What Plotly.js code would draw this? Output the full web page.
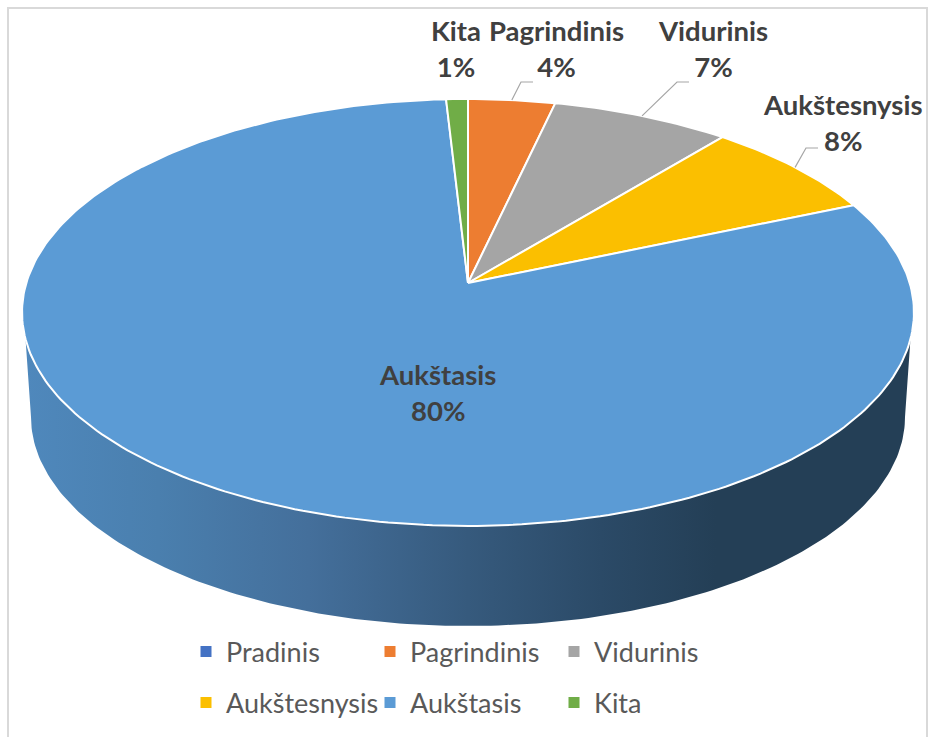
<!DOCTYPE html>
<html><head><meta charset="utf-8">
<script src="https://cdn.plot.ly/plotly-3.0.1.min.js"></script>
<style>html,body{margin:0;padding:0;background:#fff}#c{width:928px;height:737px}</style>
</head><body><div id="c"></div>
<script>
// Data (share of respondents, %)
const categories = ["Pradinis","Pagrindinis","Vidurinis","Aukštesnysis","Aukštasis","Kita"];
const shares = [0, 3.6, 7.4, 7.6, 80.49, 0.9];
const colors = ["#4472c4","#ed7d31","#a5a5a5","#fbbf00","#5b9bd5","#70ad47"];
const legendRows = ["legend","legend","legend","legend2","legend2","legend2"];
// label placement (px centre of the text), null = no label
const labelX = [null, 556, 713, 842, 437, 456];
const labelY = [null, 48, 48, 122, 392, 48];
// leader elbows (px), null = no leader
const elbowX = [null, 521, 677, 806, null, null];
const elbowY = [null, 82, 82, 148, null, null];
const elbowLen = 12;

// perspective projection of the tilted disc
const cx = 468, cy = 283, a = 441.7, b = 209.4, k = 0.138;
function P(deg){
  const t = deg*Math.PI/180, u = Math.sin(t), v = Math.cos(t), d = 1+k*v;
  return [cx+a*u/d, cy-b*v/d];
}
function range(from,to,step){ const r=[]; const s=(to>from?1:-1)*Math.abs(step); for(let t=from;(s>0?t<to:t>to);t+=s) r.push(t); r.push(to); return r; }

const traces = [];
// side wall
const wallTop = range(105,255,1).map(P);
const rimCx = 468, rimCy = 417, rimA = 437, rimB = 209;
const wallBottom = range(180,0,1).map(t=>[rimCx+rimA*Math.cos(t*Math.PI/180), rimCy+rimB*Math.sin(t*Math.PI/180)]);
const wall = wallTop.concat(wallBottom);
traces.push({type:"scatter",mode:"lines",x:wall.map(p=>p[0]),y:wall.map(p=>p[1]),
  fill:"toself",line:{width:0,color:"rgba(0,0,0,0)"},showlegend:false,hoverinfo:"skip",
  fillgradient:{type:"horizontal",colorscale:[[0,"#4f88bc"],[0.15,"#4a7fae"],[0.32,"#446f9b"],[0.5,"#365a7d"],[0.65,"#2b4a67"],[0.78,"#243f56"],[1,"#243f56"]]}});

// top face slices
const total = shares.reduce((s,v)=>s+v,0);
let cum = 0;
const annotations = [];
categories.forEach((name,i)=>{
  const start = cum/total*360, end = (cum+shares[i])/total*360, mid=(start+end)/2;
  cum += shares[i];
  if(shares[i]>0){
    const arc = range(start,end,1).map(P);
    const pts = [[cx,cy]].concat(arc,[[cx,cy]]);
    traces.push({type:"scatter",mode:"lines",x:pts.map(p=>p[0]),y:pts.map(p=>p[1]),fill:"toself",
      fillcolor:colors[i],line:{color:"#ffffff",width:2},showlegend:false,hoverinfo:"skip"});
  }
  if(elbowX[i]!==null){
    const m = P(mid);
    traces.push({type:"scatter",mode:"lines",x:[m[0],elbowX[i],elbowX[i]+elbowLen],y:[m[1],elbowY[i],elbowY[i]],
      line:{color:"#a6a6a6",width:1.2},showlegend:false,hoverinfo:"skip"});
  }
  if(labelX[i]!==null){
    annotations.push({x:labelX[i],y:labelY[i],xref:"x",yref:"y",showarrow:false,xanchor:"center",yanchor:"middle",
      text:"<b>"+name+"<br>"+Math.round(shares[i])+"%</b>",font:{family:"Lato, Carlito, sans-serif",size:27.5,color:"#404040"}});
  }
});
// legend entries
categories.forEach((name,i)=>{
  traces.push({type:"scatter",mode:"markers",x:[null],y:[null],name:name,legend:legendRows[i],
    marker:{symbol:"square",size:11,color:colors[i]},showlegend:true,hoverinfo:"skip"});
});
const legendCommon = {orientation:"h",xanchor:"left",yanchor:"middle",entrywidth:139,entrywidthmode:"pixels",
  font:{family:"Lato, Carlito, sans-serif",size:27,color:"#595959"},bgcolor:"rgba(0,0,0,0)",itemclick:false,itemdoubleclick:false};
const layout = {
  width:928,height:737,margin:{l:0,r:0,t:0,b:0},paper_bgcolor:"#fff",plot_bgcolor:"#fff",showlegend:true,
  xaxis:{range:[0,928],visible:false,fixedrange:true},
  yaxis:{range:[737,0],visible:false,fixedrange:true},
  annotations:annotations,
  shapes:[{type:"rect",xref:"x",yref:"y",x0:8,x1:927,y0:8,y1:760,line:{color:"#d9d9d9",width:2},fillcolor:"rgba(0,0,0,0)",layer:"below"}],
  legend:Object.assign({},legendCommon,{x:186/928,y:1-652/737}),
  legend2:Object.assign({},legendCommon,{x:186/928,y:1-703/737})
};
Plotly.newPlot("c",traces,layout,{displayModeBar:false,staticPlot:true});
</script></body></html>
